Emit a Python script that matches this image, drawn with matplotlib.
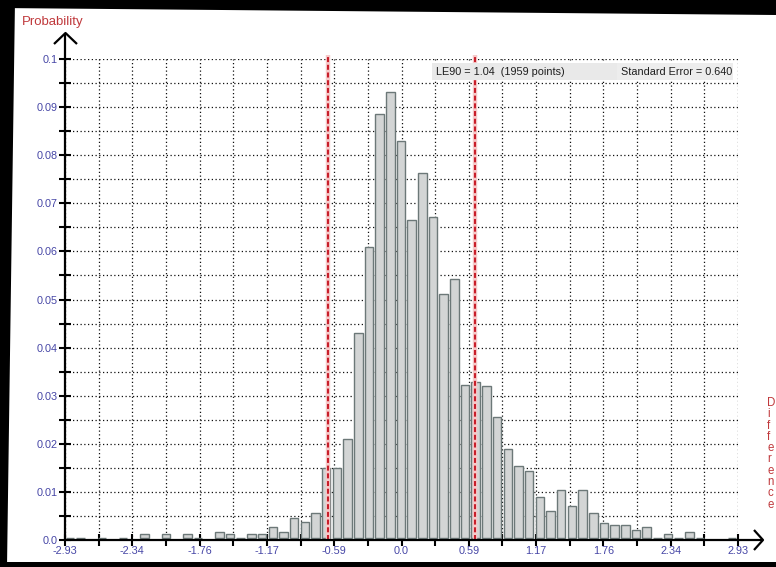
import numpy as np
import matplotlib
matplotlib.use("Agg")
from matplotlib import pyplot as plt
from matplotlib.lines import Line2D
from matplotlib.patches import Rectangle, Polygon
from matplotlib.transforms import Affine2D

# --- data ---

x_min, x_max = -2.93, 2.93
n_bins = 63
# probability per bin, nan = bin not drawn at all, 0 = flat outline only
prob = [0, 0, np.nan, 0, np.nan, 0, np.nan, 0.0012, np.nan, 0.0012,
        np.nan, 0.0012, 0, np.nan, 0.0016, 0.0012, 0, 0.0012, 0.0012, 0.0026,
        0.0016, 0.0045, 0.0037, 0.0057, 0.0150, 0.0150, 0.0210, 0.0430, 0.0609, 0.0885,
        0.0932, 0.0829, 0.0665, 0.0763, 0.0671, 0.0512, 0.0542, 0.0323, 0.0328, 0.0320,
        0.0256, 0.0190, 0.0154, 0.0144, 0.0089, 0.0061, 0.0104, 0.0071, 0.0104, 0.0057,
        0.0036, 0.0032, 0.0032, 0.0021, 0.0026, 0, 0.0012, 0, 0.0016, 0,
        np.nan, np.nan, 0]

x_tick_labels = ["-2.93", "-2.34", "-1.76", "-1.17", "-0.59", "0.0",
                 "0.59", "1.17", "1.76", "2.34", "2.93"]
y_tick_labels = ["0.0", "0.01", "0.02", "0.03", "0.04", "0.05",
                 "0.06", "0.07", "0.08", "0.09", "0.1"]
y_max = 0.1

le90 = 1.04
n_points = 1959
std_err = 0.640

# --- figure ---

W, H = 776, 567
plt.rcParams["font.family"] = ["Liberation Sans", "DejaVu Sans"]
fig = plt.figure(figsize=(W / 100, H / 100), dpi=100)
fig.patch.set_facecolor("white")

# pixel coords with origin at top-left, for the decorations
px = Affine2D().scale(1 / W, -1 / H).translate(0, 1) + fig.transFigure

ax = fig.add_axes([65 / W, 27 / H, 673 / W, 481 / H])
ax.set_xlim(x_min, x_max)
ax.set_ylim(0, y_max)
for s in ax.spines.values():
    s.set_visible(False)

# grid and ticks
ax.set_xticks(np.linspace(x_min, x_max, len(x_tick_labels)))
ax.set_xticklabels(x_tick_labels)
ax.set_xticks(np.linspace(x_min, x_max, 2 * len(x_tick_labels) - 1), minor=True)
ax.set_yticks(np.linspace(0, y_max, len(y_tick_labels)))
ax.set_yticklabels(y_tick_labels)
ax.set_yticks(np.linspace(0, y_max, 2 * len(y_tick_labels) - 1), minor=True)
ax.set_axisbelow(True)
ax.grid(which="both", color="#101010", linestyle=(0, (1, 2)), linewidth=0.9)
ax.tick_params(which="both", direction="inout", length=8, width=1.5, color="black")
ax.tick_params(axis="both", labelsize=7.8, labelcolor="#4646a6")
ax.tick_params(axis="x", pad=0.3)
ax.tick_params(axis="y", pad=1.2)

# histogram bars; the outlines sit a hair above the thick axis line
base = 0.0005
edges = np.linspace(x_min, x_max, n_bins + 1)
bin_w = edges[1] - edges[0]
p = np.array(prob, dtype=float)
ok = np.isfinite(p)
ax.bar(edges[:-1][ok] + 0.05 * bin_w, np.maximum(p[ok] - base, 0), bottom=base,
       width=0.8 * bin_w, align="edge",
       color="#d3d5d5", edgecolor="#6c7878", linewidth=1.0, zorder=3)

# +/- standard error lines
for xv in (-std_err, std_err):
    ax.plot([xv, xv], [0, y_max * 1.008], color="#f6caca", lw=3.2,
            solid_capstyle="butt", zorder=4, clip_on=False)
    ax.plot([xv, xv], [0, y_max * 1.008], color="#c81e2a", lw=1.5,
            linestyle=(0, (2.4, 1.3)), zorder=5, clip_on=False)

# info box on top
ax.add_patch(Rectangle((0.545, 0.9563), 0.275, 0.0348, transform=ax.transAxes,
                       facecolor="#e9e9e9", edgecolor="none", zorder=6))
ax.add_patch(Rectangle((0.820, 0.9563), 0.1726, 0.0348, transform=ax.transAxes,
                       facecolor="#ededed", edgecolor="none", zorder=6))
ax.text(0.5513, 0.9735, f"LE90 = {le90:.2f}  ({n_points} points)",
        transform=ax.transAxes, ha="left", va="center", fontsize=7.8,
        color="#1e1e1e", zorder=7)
ax.text(0.9911, 0.9735, f"Standard Error = {std_err:.3f}",
        transform=ax.transAxes, ha="right", va="center", fontsize=7.8,
        color="#1e1e1e", zorder=7)

# axis lines with open arrow heads
axis_kw = dict(color="black", lw=1.6, transform=px, solid_capstyle="butt")
fig.add_artist(Line2D([65, 65], [541, 34], **axis_kw))
fig.add_artist(Line2D([54, 65.5, 77], [44, 33, 44], **axis_kw))
fig.add_artist(Line2D([64, 762], [540, 540], **axis_kw))
fig.add_artist(Line2D([754, 763, 754], [530, 540, 550], **axis_kw))

# axis titles
fig.text(22, 22, "Probability", transform=px, ha="left", va="center",
         fontsize=9.5, color="#c0393c")
for i, ch in enumerate("Difference"):
    fig.text(767, 403 + i * 11.3, ch, transform=px, ha="left", va="center",
             fontsize=8.3, color="#c0393c")

# black frame of the screenshot
frame_kw = dict(closed=True, facecolor="black", edgecolor="none", transform=px)
fig.add_artist(Polygon([(0, 0), (W, 0), (W, 7), (W, 15), (0, 8)], **frame_kw))
fig.add_artist(Polygon([(0, 0), (15, 0), (7, H), (0, H)], **frame_kw))
fig.add_artist(Polygon([(0, 562), (W, 562), (W, H), (0, H)], **frame_kw))

fig.savefig("out.png", dpi=100)
